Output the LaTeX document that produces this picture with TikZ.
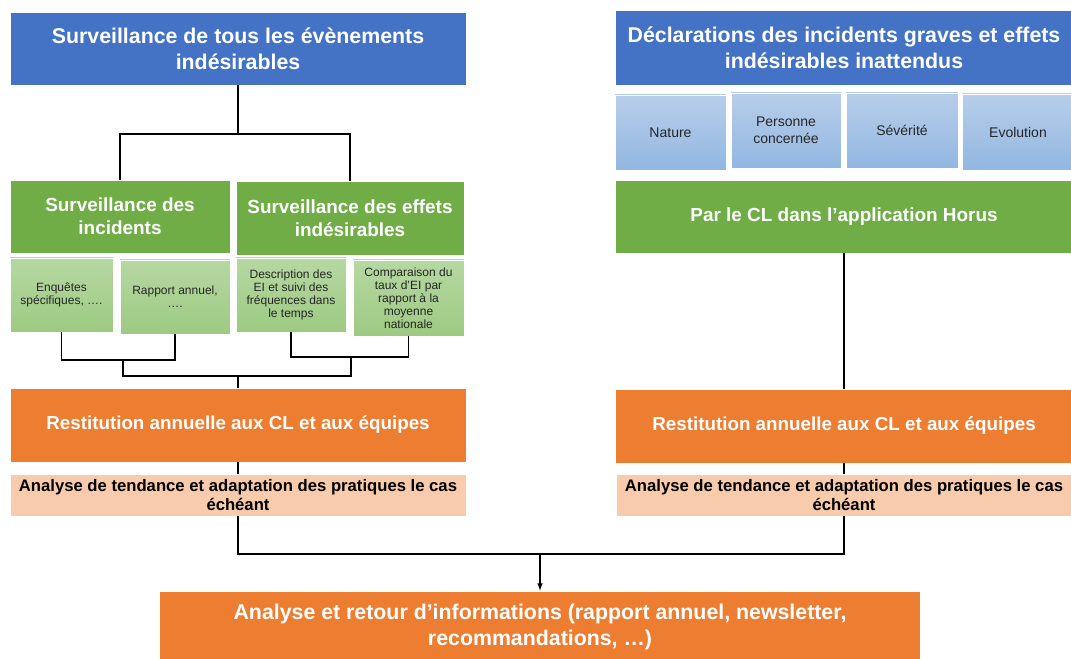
\documentclass[tikz,border=0pt]{standalone}
\usepackage{fontspec}
\setmainfont{Liberation Sans}
\usepackage{tikz}
\definecolor{bleu}{HTML}{4472C4}
\definecolor{vert}{HTML}{70AD47}
\definecolor{orangeo}{HTML}{ED7D31}
\definecolor{peche}{HTML}{F8CBAD}
\definecolor{vertH}{HTML}{B6D8A2}
\definecolor{vertB}{HTML}{9DCA82}
\definecolor{bleuH}{HTML}{B7CEEA}
\definecolor{bleuB}{HTML}{92B7E1}
\begin{document}
\begin{tikzpicture}[x=0.75pt, y=-0.75pt,
		boite/.style={draw=white, line width=0.6pt, align=center, inner sep=2pt},
		titre/.style={boite, fill=bleu, text=white, font=\fontsize{16}{19.5}\selectfont\bfseries},
		sous/.style={boite, fill=vert, text=white, font=\fontsize{14.2}{17}\selectfont\bfseries},
		detail/.style={boite, top color=vertH, bottom color=vertB, text=black!85, font=\fontsize{9}{9.8}\selectfont},
		critere/.style={boite, top color=bleuH, bottom color=bleuB, text=black!85, font=\fontsize{10.5}{12.5}\selectfont},
		resti/.style={boite, fill=orangeo, text=white, font=\fontsize{14.1}{17}\selectfont\bfseries},
		analyse/.style={boite, fill=peche, text=black, font=\fontsize{12.5}{14}\selectfont\bfseries},
		lien/.style={line width=0.9pt}]
		\useasboundingbox (0,0) rectangle (1071,659);
		% colonne de gauche
		\node[titre, minimum width=342pt, minimum height=54.75pt](sv)at(238, 48.5){Surveillance de tous les évènements\\indésirables};
		\node[sous, minimum width=165pt, minimum height=54.75pt](si)at(120, 216.5){Surveillance des\\incidents};
		\node[sous, minimum width=171pt, minimum height=55.5pt](se)at(350, 218){Surveillance des effets\\indésirables};
		\node[detail, minimum width=77.25pt, minimum height=55.5pt](enq)at(61.5, 295){Enquêtes\\spécifiques, ….};
		\node[detail, minimum width=82.5pt, minimum height=55.5pt](rap)at(175, 297){Rapport annuel,\\….};
		\node[detail, minimum width=82.5pt, minimum height=55.5pt](desc)at(291, 295){Description des\\EI et suivi des\\fréquences dans\\le temps};
		\node[detail, minimum width=83.25pt, minimum height=57pt](comp)at(408.5, 298){Comparaison du\\taux d’EI par\\rapport à la\\moyenne\\nationale};
		\node[resti, minimum width=342pt, minimum height=55.5pt](resA)at(238, 425){Restitution annuelle aux CL et aux équipes};
		\node[analyse, minimum width=342pt, minimum height=31.5pt](anaA)at(238, 495){Analyse de tendance et adaptation des pratiques le cas\\échéant};
		% colonne de droite
		\node[titre, minimum width=343.5pt, minimum height=56.25pt](dc)at(844, 47.5){Déclarations des incidents graves et effets\\indésirables inattendus};
		\node[critere, minimum width=83.25pt, minimum height=56.25pt](nat)at(670.5, 132.5){Nature};
		\node[critere, minimum width=82.5pt, minimum height=56.25pt](pers)at(786, 130.5){Personne\\concernée};
		\node[critere, minimum width=84pt, minimum height=56.25pt](sev)at(902, 130.5){Sévérité};
		\node[critere, minimum width=84pt, minimum height=57pt](evo)at(1018, 132){Evolution};
		\node[sous, minimum width=343.5pt, minimum height=54.75pt](horus)at(844, 216.5){Par le CL dans l’application Horus};
		\node[resti, minimum width=343.5pt, minimum height=55.5pt](resB)at(844, 426){Restitution annuelle aux CL et aux équipes};
		\node[analyse, minimum width=342pt, minimum height=31.5pt](anaB)at(844, 495){Analyse de tendance et adaptation des pratiques le cas\\échéant};
		% synthese
		\node[resti, font=\fontsize{16}{19.5}\selectfont\bfseries, minimum width=570.75pt, minimum height=54pt](ret)at(540, 627){Analyse et retour d’informations (rapport annuel, newsletter,\\recommandations, …)};
		% liaisons
		\coordinate(tA)at(238, 134);
		\coordinate(bA)at(123, 360);
		\coordinate(bB)at(351, 357);
		\coordinate(bC)at(238, 376);
		\coordinate(jR)at(540, 554);
		\draw[lien](sv.south)--(tA);
		\draw[lien](si.north)|-(tA)-|(se.north);
		\draw[lien](enq.south)|-(bA)-|(rap.south);
		\draw[lien](desc.south)|-(bB)-|(comp.south);
		\draw[lien](bA)|-(bC)-|(bB);
		\draw[lien](bC)--(resA.north);
		\draw[lien](resA.south)--(anaA.north);
		\draw[lien](horus.south)--(resB.north);
		\draw[lien](resB.south)--(anaB.north);
		\draw[lien](anaA.south)|-(jR)-|(anaB.south);
		\draw[lien, -latex](jR)--(ret.north);
	\end{tikzpicture}
\end{document}
